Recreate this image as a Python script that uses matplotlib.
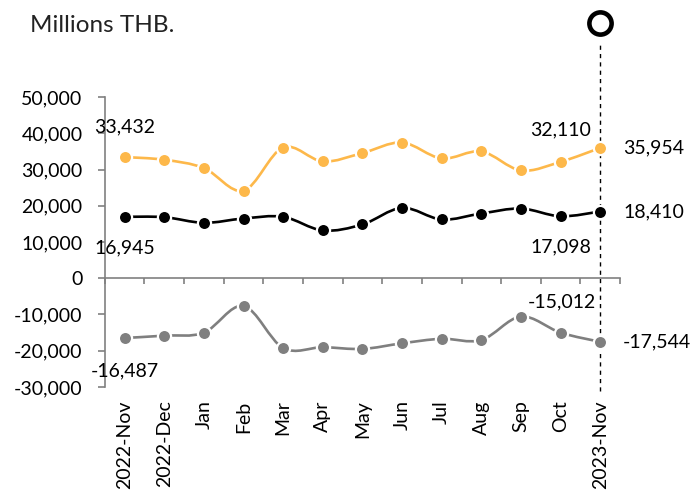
import numpy as np
import matplotlib
matplotlib.use("Agg")
import matplotlib.pyplot as plt
from matplotlib.path import Path
from matplotlib.patches import PathPatch
from matplotlib.ticker import FuncFormatter, FixedLocator

plt.rcParams['font.family'] = ['Lato', 'DejaVu Sans']

months = ['2022-Nov', '2022-Dec', 'Jan', 'Feb', 'Mar', 'Apr', 'May',
          'Jun', 'Jul', 'Aug', 'Sep', 'Oct', '2023-Nov']
exports = [33432, 32690, 30400, 24170, 36070, 32230, 34530,
           37450, 33050, 34970, 29750, 32110, 35954]
imports = [16945, 16850, 15290, 16480, 16950, 13190, 14840,
           19420, 16210, 17860, 19230, 17098, 18410]
balance = [-16487, -15840, -15000, -7650, -19250, -19040, -19500,
           -17950, -16700, -17050, -10570, -15012, -17544]

YELLOW = '#FDB84A'
GRAY = '#7F7F7F'


def smooth_path(x, y):
    # excel-like smoothed line as bezier segments through the points
    x = np.asarray(x, float)
    y = np.asarray(y, float)
    n = len(x)
    verts = [(x[0], y[0])]
    codes = [Path.MOVETO]
    for i in range(n - 1):
        p0 = np.array([x[max(i - 1, 0)], y[max(i - 1, 0)]])
        p1 = np.array([x[i], y[i]])
        p2 = np.array([x[i + 1], y[i + 1]])
        p3 = np.array([x[min(i + 2, n - 1)], y[min(i + 2, n - 1)]])
        c1 = p1 + (p2 - p0) / 6.0
        c2 = p2 - (p3 - p1) / 6.0
        verts += [tuple(c1), tuple(c2), tuple(p2)]
        codes += [Path.CURVE4] * 3
    return Path(verts, codes)


fig = plt.figure(figsize=(6.99, 4.96), dpi=100)
ax = fig.add_axes([0.150, 0.2198, 0.737, 0.5846])

xs = np.arange(len(months))
for vals, col in [(exports, YELLOW), (imports, 'black'), (balance, GRAY)]:
    ax.add_patch(PathPatch(smooth_path(xs, vals), fill=False, edgecolor=col,
                           lw=1.9, capstyle='butt', zorder=3))
    ax.plot(xs, vals, linestyle='none', marker='o', ms=9.5, mfc=col,
            mec='white', mew=1.6, zorder=4)

ax.set_xlim(-0.5, len(months) - 0.5)
ax.set_ylim(-30000, 50000)

# vertical marker on latest month
ax.plot([xs[-1], xs[-1]], [-31000, 65500], ls=(0, (3, 3)), color='black',
        lw=1.0, clip_on=False, zorder=2)
ax.plot([xs[-1]], [70300], marker='o', ms=16, mfc='white', mec='black',
        mew=3.3, clip_on=False, zorder=5)

for s in ['top', 'right']:
    ax.spines[s].set_visible(False)
ax.spines['left'].set_color('#808080')
ax.spines['left'].set_linewidth(1.2)
ax.spines['bottom'].set_position(('data', 0))
ax.spines['bottom'].set_color('#808080')
ax.spines['bottom'].set_linewidth(1.2)

ax.set_yticks(np.arange(-30000, 50001, 10000))
ax.yaxis.set_major_formatter(FuncFormatter(lambda v, p: f'{int(v):,}'))
ax.tick_params(axis='y', direction='out', length=5, width=1.2, color='#808080',
               pad=11, labelsize=14)

ax.set_xticks(xs)
ax.set_xticklabels(months, rotation=90)
ax.tick_params(axis='x', which='major', length=0, pad=88, labelsize=14)
ax.xaxis.set_minor_locator(FixedLocator(np.arange(-0.5, len(months), 1.0)))
ax.tick_params(axis='x', which='minor', direction='out', length=4, width=1.2,
               color='#808080')

fs = 14
def lab(i, v, dx, dy, ha='center'):
    ax.annotate(f'{v:,}', (xs[i], v), xytext=(dx, dy), textcoords='offset points',
                ha=ha, va='center', fontsize=fs, zorder=6)

lab(0, exports[0], 0, 22)
lab(0, imports[0], 0, -22)
lab(0, balance[0], 0, -24)
lab(11, exports[11], 0, 23)
lab(11, imports[11], 0, -22)
lab(11, balance[11], 1, 22)
lab(12, exports[12], 16.5, 0, ha='left')
lab(12, imports[12], 16.5, 0, ha='left')
lab(12, balance[12], 16.5, 0, ha='left')

fig.text(0.043, 0.948, 'Millions THB.', fontsize=17.5, ha='left', va='center',
         color='#222222')

fig.savefig('out.png', dpi=100)
